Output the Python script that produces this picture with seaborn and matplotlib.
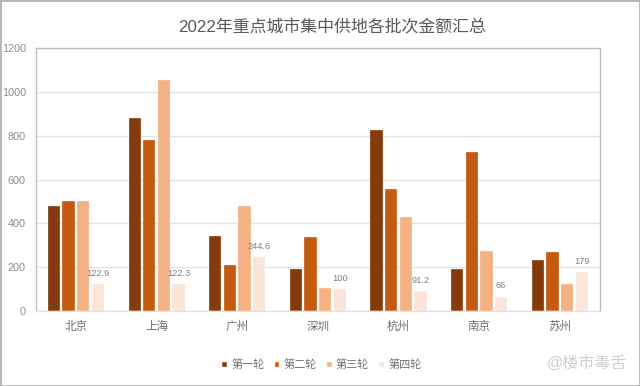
import pandas as pd
import matplotlib
matplotlib.use('Agg')
import matplotlib.pyplot as plt
import seaborn as sns

cities = ['北京', '上海', '广州', '深圳', '杭州', '南京', '苏州']
round1 = [480, 880, 340, 193, 825, 190, 232]
round2 = [500, 780, 210, 338, 555, 727, 268]
round3 = [500, 1055, 480, 105, 430, 272, 125]
round4 = [122.9, 122.3, 244.6, 100, 91.2, 66, 179]
round_names = ['第一轮', '第二轮', '第三轮', '第四轮']
colors = ['#843c0c', '#c55a11', '#f4b183', '#fbe5d6']

sns.set_style('white')
plt.rcParams['font.family'] = ['Liberation Sans', 'Noto Sans CJK SC']

df = pd.DataFrame({'city': cities, round_names[0]: round1, round_names[1]: round2,
                   round_names[2]: round3, round_names[3]: round4})
df = df.melt(id_vars='city', var_name='round', value_name='amount')

fig = plt.figure(figsize=(6.4, 3.86), dpi=100, facecolor='white')
ax = fig.add_axes([35.6 / 640, 1 - 311 / 386, 564.5 / 640, 263 / 386])

sns.barplot(data=df, x='city', y='amount', hue='round', hue_order=round_names,
            palette=colors, saturation=1, width=0.725, gap=0.16, ax=ax,
            errorbar=None, legend=True)

ax.set_xlim(-0.5, 6.5)
ax.set_ylim(0, 1200)
ax.set_yticks(range(0, 1201, 200))
ax.set_xlabel('')
ax.set_ylabel('')
ax.grid(axis='y', color='#e2e2e2', linewidth=1)
ax.set_axisbelow(True)
ax.tick_params(axis='x', length=0, labelsize=8.3, labelcolor='#6f6f6f', pad=7)
ax.tick_params(axis='y', length=0, labelsize=7.8, labelcolor='#8c8c8c', pad=7)

for side in ['left', 'top', 'right']:
    ax.spines[side].set_color('#bdbdbd')
    ax.spines[side].set_linewidth(1)
ax.spines['bottom'].set_color('#e2e2e2')
ax.spines['bottom'].set_linewidth(1)

# lighter rim round each bar, like the office chart
for cont in ax.containers:
    for bar in cont:
        bar.set_edgecolor('#ffffff')
        bar.set_linewidth(0.2)

ax.bar_label(ax.containers[3], fmt='%g', padding=4.5, fontsize=6.7, color='#7f7f7f')

ax.legend(loc='center', bbox_to_anchor=(321.5 / 640, 1 - 364.5 / 386),
          bbox_transform=fig.transFigure, ncol=4, frameon=False, fontsize=8,
          labelcolor='#6f6f6f', handlelength=0.5, handleheight=0.5,
          handletextpad=0.4, columnspacing=0.8)

fig.text(332 / 640, 1 - 27 / 386, '2022年重点城市集中供地各批次金额汇总', ha='center',
         va='center', fontsize=12.2, color='#595959')
fig.text(627 / 640, 1 - 363 / 386, '@楼市毒舌', ha='right', va='center',
         fontsize=11.5, color='#cfcfcf')

fig.add_artist(plt.Rectangle((0, 0), 1, 1, transform=fig.transFigure, fill=False,
                             edgecolor='#b5b5b5', linewidth=2))

fig.savefig('out.png', dpi=100)
